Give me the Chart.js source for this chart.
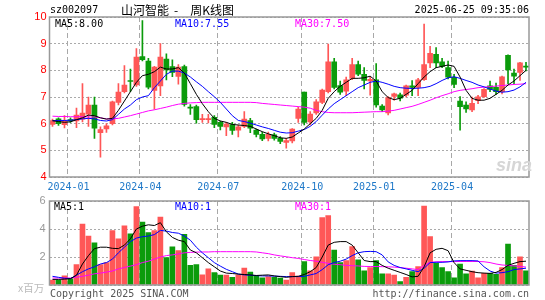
<!DOCTYPE html>
<html><head><meta charset="utf-8">
<script src="https://cdn.jsdelivr.net/npm/chart.js@4/dist/chart.umd.min.js"></script>
<style>
html,body{margin:0;padding:0;background:#fff;}
#wrap{position:relative;width:545px;height:300px;overflow:hidden;font-family:'DejaVu Sans Mono',monospace;}
canvas{position:absolute;left:0;}
.t{position:absolute;white-space:pre;font-size:10px;line-height:10px;font-family:'DejaVu Sans Mono',monospace;}
.cjk{font-family:'Noto Sans CJK SC',sans-serif;}
</style></head><body>
<div id="wrap">
<canvas id="k" width="545" height="200" style="top:0;width:545px;height:200px"></canvas>
<canvas id="v" width="545" height="110" style="top:190px;width:545px;height:110px"></canvas>
<div class="t" style="left:50px;top:5px;color:#000">sz002097</div>
<div class="t cjk" style="left:121px;top:3px;font-size:12px;line-height:14px;color:#000">山河智能<span style="padding:0 12px 0 5px">-</span>周K线图</div>
<div class="t" style="right:16px;top:5px;color:#000">2025-06-25 09:35:06</div>
<div class="t" id="lm5" style="left:55px;top:18.5px;color:#000"></div>
<div class="t" id="lm10" style="left:175px;top:18.5px;color:#0000ff"></div>
<div class="t" id="lm30" style="left:295px;top:18.5px;color:#ff00ff"></div>
<div class="t" id="lv5" style="left:54px;top:201.5px;color:#000"></div>
<div class="t" id="lv10" style="left:175px;top:201.5px;color:#0000ff"></div>
<div class="t" id="lv30" style="left:295px;top:201.5px;color:#ff00ff"></div>
<div class="t cjk" style="left:18px;top:282px;font-size:10.5px;line-height:12px;color:#bbb">x百万</div>
<div class="t" style="left:50px;top:289px;color:#555">Copyright 2025 SINA.COM</div>
<div class="t" style="right:16px;top:289px;color:#555">http://finance.sina.com.cn</div>
<div class="t" style="left:496px;top:156px;font-family:'Liberation Sans',sans-serif;font-size:18px;line-height:18px;font-style:italic;font-weight:bold;color:#d6d6d6">sina</div>
</div>
<script>
const weeks = ['2023-12-15','2023-12-22','2023-12-29','2024-01-05','2024-01-12','2024-01-19','2024-01-26','2024-02-02','2024-02-08','2024-02-23',
'2024-03-01','2024-03-08','2024-03-15','2024-03-22','2024-03-29','2024-04-03','2024-04-12','2024-04-19','2024-04-26','2024-04-30',
'2024-05-10','2024-05-17','2024-05-24','2024-05-31','2024-06-07','2024-06-14','2024-06-21','2024-06-28','2024-07-05','2024-07-12',
'2024-07-19','2024-07-26','2024-08-02','2024-08-09','2024-08-16','2024-08-23','2024-08-30','2024-09-06','2024-09-13','2024-09-20',
'2024-09-27','2024-09-30','2024-10-11','2024-10-18','2024-10-25','2024-11-01','2024-11-08','2024-11-15','2024-11-22','2024-11-29',
'2024-12-06','2024-12-13','2024-12-20','2024-12-27','2025-01-03','2025-01-10','2025-01-17','2025-01-24','2025-01-27','2025-02-07',
'2025-02-14','2025-02-21','2025-02-28','2025-03-07','2025-03-14','2025-03-21','2025-03-28','2025-04-03','2025-04-11','2025-04-18',
'2025-04-25','2025-04-30','2025-05-09','2025-05-16','2025-05-23','2025-05-30','2025-06-06','2025-06-13','2025-06-20','2025-06-25'];

const openP = [5.97,6.18,5.96,6.15,6.10,6.17,6.36,6.70,5.66,5.80, 6.00,6.80,7.20,7.62,7.45,8.52,8.35,7.25,7.42,8.42,
8.14,7.77,8.14,6.62,6.64,6.15,6.15,6.24,6.05,5.88, 5.97,5.76,5.90,6.12,5.76,5.60,5.45,5.58,5.45,5.30,
5.35,6.20,7.18,6.07,6.40,6.80,7.20,8.32,7.43,7.22, 7.70,8.22,7.85,7.60,7.64,6.66,6.40,7.02,7.08,7.07,
7.42,7.36,7.65,8.28,8.60,8.32,8.10,7.74,6.85,6.70, 6.52,6.86,7.01,7.42,7.36,7.20,8.56,7.90,7.92,8.16];
const highP = [6.17,6.22,6.30,6.22,6.58,7.50,7.00,7.00,5.88,6.00, 6.85,7.50,8.18,8.05,8.82,9.87,8.45,8.15,9.00,8.62,
8.39,8.22,8.20,6.72,6.70,6.35,6.35,6.30,6.10,6.05, 6.05,5.95,6.45,6.20,5.80,5.68,5.68,5.65,5.52,5.45,
5.82,6.62,7.18,6.45,6.90,7.30,8.98,8.45,7.60,7.75, 8.45,8.35,8.10,7.76,8.25,6.72,7.02,7.15,7.15,7.45,
7.62,7.70,9.73,8.90,8.85,8.45,8.35,7.85,7.02,6.82, 7.00,7.06,7.32,7.60,7.52,7.78,8.58,8.05,8.30,8.30];
const lowP = [5.90,5.93,5.84,6.05,5.85,6.07,5.90,5.45,4.74,5.67, 5.95,6.70,7.15,7.20,7.40,8.35,7.30,6.54,7.05,7.64,
7.76,7.48,6.66,6.35,6.02,6.05,6.03,5.85,5.77,5.55, 5.60,5.50,5.85,5.66,5.50,5.36,5.35,5.38,5.25,5.08,
5.28,6.05,5.95,5.95,6.35,6.75,7.15,7.30,7.10,7.05, 7.65,7.80,7.30,7.07,6.62,6.45,6.33,6.88,6.85,7.00,
7.05,7.05,7.62,8.10,8.10,8.10,7.68,7.35,5.76,6.42, 6.45,6.75,6.98,7.20,7.10,7.12,7.50,7.50,7.62,7.98];
const closeP = [6.12,6.00,6.10,6.10,6.32,6.40,6.70,5.83,5.78,5.92, 6.82,7.18,7.45,7.58,8.50,8.40,7.37,8.12,8.50,8.02,
7.92,8.12,6.72,6.58,6.15,6.19,6.19,5.97,5.90,5.98, 5.75,5.88,6.17,5.83,5.60,5.43,5.60,5.45,5.33,5.37,
5.80,6.55,6.05,6.36,6.82,7.26,8.32,7.36,7.18,7.64, 8.22,7.86,7.62,7.66,6.70,6.52,6.98,7.12,6.96,7.42,
7.36,7.64,8.22,8.64,8.28,8.15,7.74,7.47,6.64,6.55, 6.76,7.01,7.29,7.28,7.20,7.76,8.02,7.78,8.28,8.12];

const ma5 = [6.11,6.08,6.05,6.07,6.15,6.22,6.32,6.30,6.22,6.17, 6.20,6.50,6.85,7.20,7.55,7.80,7.85,7.95,8.12,8.05,
8.05,8.10,7.90,7.50,7.10,6.75,6.45,6.20,6.10,6.05, 5.97,5.95,5.93,5.90,5.80,5.70,5.62,5.55,5.47,5.45,
5.50,5.65,5.80,6.00,6.20,6.50,6.95,7.20,7.40,7.55, 7.70,7.70,7.72,7.78,7.60,7.20,6.98,6.90,6.95,7.10,
7.25,7.50,7.75,7.95,8.10,8.15,8.20,8.15,7.75,7.25, 6.95,6.88,6.88,6.95,7.10,7.25,7.45,7.60,7.80,8.00];
const ma10 = [6.11,6.12,6.12,6.13,6.15,6.18,6.20,6.18,6.12,6.10, 6.15,6.35,6.55,6.70,6.90,7.00,7.05,7.35,7.60,7.85,
7.97,7.97,7.90,7.75,7.57,7.40,7.20,7.01,6.80,6.55, 6.30,6.12,6.08,6.02,5.95,5.88,5.82,5.75,5.68,5.65,
5.66,5.72,5.78,5.90,6.08,6.32,6.55,6.75,6.90,7.05, 7.20,7.35,7.45,7.55,7.60,7.55,7.48,7.40,7.35,7.33,
7.32,7.33,7.35,7.40,7.50,7.62,7.72,7.76,7.70,7.62, 7.55,7.45,7.38,7.30,7.22,7.18,7.20,7.26,7.38,7.55];
const ma30 = [6.28,6.27,6.27,6.26,6.26,6.26,6.25,6.25,6.22,6.18, 6.18,6.20,6.25,6.30,6.36,6.42,6.48,6.52,6.57,6.62,
6.68,6.73,6.76,6.78,6.79,6.80,6.80,6.80,6.80,6.80, 6.80,6.80,6.80,6.80,6.79,6.76,6.74,6.72,6.70,6.68,
6.66,6.64,6.62,6.58,6.50,6.45,6.42,6.41,6.41,6.41, 6.41,6.42,6.43,6.44,6.45,6.45,6.47,6.50,6.55,6.60,
6.65,6.72,6.80,6.88,6.97,7.05,7.12,7.20,7.25,7.28, 7.31,7.35,7.37,7.39,7.41,7.43,7.45,7.47,7.48,7.50];

const volume = [0.35,0.35,0.65,0.45,1.45,4.36,3.50,3.02,1.45,1.60, 3.88,3.30,4.22,3.65,5.60,4.50,3.74,3.88,4.85,1.96,
2.72,2.45,3.62,1.40,1.45,0.72,1.15,0.88,0.70,0.70, 0.55,0.72,1.20,0.92,0.67,0.52,0.60,0.55,0.50,0.36,
0.88,0.64,1.67,1.02,2.02,4.81,4.95,2.50,1.60,1.74, 2.74,1.79,1.02,1.24,1.74,0.79,0.79,0.71,0.24,0.55,
0.95,1.31,5.64,3.45,1.55,1.24,0.95,0.52,1.50,0.79, 1.00,0.52,0.83,0.83,0.76,1.24,2.93,1.40,2.02,1.02];
const vma5 = [0.40,0.40,0.42,0.45,0.70,1.50,2.10,2.60,2.70,2.70, 2.62,2.60,2.85,3.30,4.00,4.20,4.30,4.25,4.45,3.80,
3.40,3.20,3.10,2.50,2.30,1.95,1.60,1.30,1.00,0.85, 0.82,0.78,0.75,0.72,0.68,0.70,0.72,0.65,0.60,0.55,
0.60,0.62,0.75,0.95,1.25,2.00,2.85,3.05,3.10,3.10, 2.85,2.30,1.75,1.67,1.67,1.40,1.20,1.05,0.90,0.75,
0.58,0.62,1.30,2.30,2.55,2.62,2.45,1.60,1.15,1.05, 0.95,0.88,0.85,0.83,0.90,1.10,1.40,1.55,1.67,1.70];
const vma10 = [0.62,0.55,0.48,0.46,0.70,0.95,1.15,1.30,1.50,1.60, 1.85,2.30,2.70,3.10,3.35,3.45,3.50,3.60,3.90,3.85,
3.75,3.70,3.50,3.20,2.70,2.30,1.95,1.60,1.35,1.12, 0.95,0.78,0.72,0.70,0.67,0.65,0.65,0.63,0.62,0.60,
0.60,0.60,0.62,0.72,0.82,1.10,1.45,1.60,1.70,1.85, 2.10,2.30,2.38,2.40,2.38,2.15,1.65,1.40,1.25,1.15,
1.05,0.95,1.20,1.60,1.62,1.62,1.65,1.72,1.74,1.74, 1.74,1.72,1.30,1.00,0.85,0.88,0.95,1.10,1.15,1.20];
const vma30 = [0.50,0.50,0.50,0.50,0.55,0.62,0.70,0.80,0.85,0.92, 1.00,1.15,1.25,1.35,1.45,1.60,1.70,1.85,2.00,2.10,
2.15,2.22,2.30,2.33,2.35,2.36,2.36,2.38,2.38,2.38, 2.38,2.38,2.38,2.38,2.36,2.30,2.24,2.15,2.08,2.02,
1.95,1.90,1.82,1.75,1.70,1.62,1.55,1.48,1.45,1.40, 1.38,1.36,1.33,1.32,1.32,1.31,1.30,1.28,1.24,1.20,
1.15,1.10,1.40,1.62,1.66,1.67,1.67,1.67,1.68,1.68, 1.68,1.68,1.66,1.60,1.50,1.43,1.40,1.36,1.33,1.28];

const priceTicks = [4,5,6,7,8,9,10];
const volTicks = [0,2,4,6];

const UP = '#ff5757', DOWN = '#0b9b0b';
const candleColors = closeP.map((c,i)=> c >= openP[i] ? UP : DOWN);
const bodies = openP.map((o,i)=>[o, closeP[i]]);
const wicks = lowP.map((l,i)=>[l, highP[i]]);
const monthIdx = new Set();
weeks.forEach((w,i)=>{
  const m = +w.slice(5,7);
  if (i>0 && w.slice(0,7)!==weeks[i-1].slice(0,7) && [1,4,7,10].includes(m)) monthIdx.add(i);
});

document.getElementById('lm5').textContent = 'MA5:' + ma5[ma5.length-1].toFixed(2);
document.getElementById('lm10').textContent = 'MA10:' + ma10[ma10.length-1].toFixed(2);
document.getElementById('lm30').textContent = 'MA30:' + ma30[ma30.length-1].toFixed(2);
document.getElementById('lv5').textContent = 'MA5:' + Math.floor(vma5[vma5.length-1]);
document.getElementById('lv10').textContent = 'MA10:' + Math.floor(vma10[vma10.length-1]);
document.getElementById('lv30').textContent = 'MA30:' + Math.floor(vma30[vma30.length-1]);

const boxPlugin = {
  id:'box',
  afterDraw(chart){
    const a = chart.chartArea, c = chart.ctx;
    c.save(); c.strokeStyle = '#999'; c.lineWidth = 1.5;
    c.strokeRect(a.left, a.top, a.right-a.left, a.bottom-a.top);
    c.restore();
  }
};

const vGrid = {
  offset:true, drawTicks:false, lineWidth:1,
  color: (ctx)=> monthIdx.has(ctx.index) ? '#a8a8a8' : 'rgba(0,0,0,0)'
};

const lineDs = (data,color)=>({type:'line', data, borderColor:color, borderWidth:1, pointRadius:0, tension:0, order:0, fill:false});

Chart.defaults.animation = false;

new Chart(document.getElementById('k'), {
  type:'bar',
  data:{ labels: weeks, datasets:[
    lineDs(ma5,'#000000'), lineDs(ma10,'#0000ff'), lineDs(ma30,'#ff00ff'),
    {type:'bar', data: bodies, backgroundColor: candleColors, barThickness:5, grouped:false, minBarLength:1, order:1, borderWidth:0},
    {type:'bar', data: wicks, backgroundColor: candleColors, barThickness:1, grouped:false, order:2, borderWidth:0}
  ]},
  options:{
    responsive:false, animation:false, events:[],
    layout:{padding:{top:17,right:16,left:0,bottom:0}},
    plugins:{legend:{display:false}, tooltip:{enabled:false}},
    scales:{
      x:{ type:'category', offset:true, grid: vGrid, border:{display:false, dash:[5,3]},
        ticks:{ autoSkip:false, maxRotation:0, minRotation:0, padding:4, labelOffset:-2,
          color:'#1e78c8', font:{family:'DejaVu Sans Mono', size:10},
          callback(v,i){ return monthIdx.has(i) ? weeks[i].slice(0,7) : ''; } },
        afterFit(s){ s.height = 23; } },
      y:{ min:4, max:10, afterBuildTicks(s){ s.ticks = priceTicks.map(v=>({value:v})); },
        grid:{ drawTicks:false, color:'#aaaaaa', lineWidth:1 }, border:{display:false, dash:[2,2]},
        ticks:{ padding:3, color:'#ff0000', font:{family:'Liberation Sans', size:11} },
        afterFit(s){ s.width = 49.5; } }
    }
  },
  plugins:[boxPlugin]
});

new Chart(document.getElementById('v'), {
  type:'bar',
  data:{ labels: weeks, datasets:[
    lineDs(vma5,'#000000'), lineDs(vma10,'#0000ff'), lineDs(vma30,'#ff00ff'),
    {type:'bar', data: volume, backgroundColor: candleColors, barThickness:5, grouped:false, order:1, borderWidth:0}
  ]},
  options:{
    responsive:false, animation:false, events:[],
    layout:{padding:{top:11,right:16,left:0,bottom:0}},
    plugins:{legend:{display:false}, tooltip:{enabled:false}},
    scales:{
      x:{ type:'category', offset:true, grid: vGrid, border:{display:false, dash:[5,3]},
        ticks:{ display:false, autoSkip:false },
        afterFit(s){ s.height = 15; } },
      y:{ min:0, max:6, afterBuildTicks(s){ s.ticks = volTicks.map(v=>({value:v})); },
        grid:{ drawTicks:false, color:'#aaaaaa', lineWidth:1 }, border:{display:false, dash:[2,2]},
        ticks:{ padding:4, color:'#999999', font:{family:'Liberation Sans', size:11},
          callback(v){ return v===0 ? '' : String(v); } },
        afterFit(s){ s.width = 49.5; } }
    }
  },
  plugins:[boxPlugin]
});
</script>
</body></html>
